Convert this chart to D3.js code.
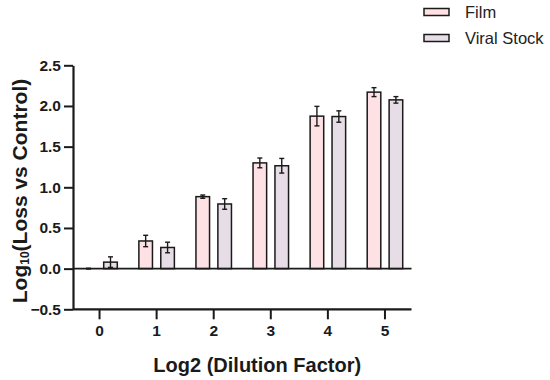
<!DOCTYPE html>
<html>
<head>
<meta charset="utf-8">
<script src="https://cdn.jsdelivr.net/npm/d3@7"></script>
<style>
  html, body { margin: 0; padding: 0; background: #fff; }
  svg { display: block; font-family: 'Liberation Sans', Arial, sans-serif; }
</style>
</head>
<body>
<svg id="chart" width="550" height="380"></svg>
<script>
// dilution steps on the x axis
const dilutions = ['0', '1', '2', '3', '4', '5']
const seriesNames = ['Film', 'Viral Stock']
const filmMeans = [0.0, 0.34, 0.885, 1.30, 1.875, 2.17]
const filmErrs = [0.005, 0.07, 0.02, 0.06, 0.12, 0.055]
const stockMeans = [0.08, 0.26, 0.795, 1.265, 1.87, 2.075]
const stockErrs = [0.065, 0.065, 0.065, 0.09, 0.07, 0.04]
const yTicks = [-0.5, 0, 0.5, 1.0, 1.5, 2.0, 2.5]
const fills = { 'Film': '#fde1e4', 'Viral Stock': '#e7dde6' }

const svg = d3.select('#chart')
const ink = '#1a1a1a'

const x = d3.scaleBand().domain(dilutions).range([71, 413.5]).padding(0)
const x1 = d3.scaleBand().domain(seriesNames).range([-17.75, 17.75]).paddingInner(0.38).paddingOuter(0)
const y = d3.scaleLinear().domain([-0.5, 2.5]).range([309.3, 65.3])

const rows = []
dilutions.forEach((d, i) => {
  rows.push({ dil: d, series: 'Film', mean: filmMeans[i], err: filmErrs[i] })
  rows.push({ dil: d, series: 'Viral Stock', mean: stockMeans[i], err: stockErrs[i] })
})

const cx = d => x(d.dil) + x.bandwidth() / 2 + x1(d.series) + x1.bandwidth() / 2

// bars
svg.append('g').selectAll('rect')
  .data(rows)
  .enter()
  .append('rect')
  .attr('x', d => cx(d) - x1.bandwidth() / 2)
  .attr('y', d => y(Math.max(0, d.mean)))
  .attr('width', x1.bandwidth())
  .attr('height', d => Math.abs(y(d.mean) - y(0)))
  .attr('fill', d => fills[d.series])
  .attr('stroke', ink)
  .attr('stroke-width', 1.5)

// error bars
const eb = svg.append('g').attr('stroke', ink).attr('stroke-width', 1.4)
rows.forEach(d => {
  const c = cx(d)
  eb.append('line').attr('x1', c).attr('x2', c).attr('y1', y(d.mean - d.err)).attr('y2', y(d.mean + d.err))
  eb.append('line').attr('x1', c - 2.5).attr('x2', c + 2.5).attr('y1', y(d.mean + d.err)).attr('y2', y(d.mean + d.err))
  eb.append('line').attr('x1', c - 2.5).attr('x2', c + 2.5).attr('y1', y(d.mean - d.err)).attr('y2', y(d.mean - d.err))
})

// zero line
svg.append('line')
  .attr('x1', 73).attr('x2', 411.5)
  .attr('y1', y(0)).attr('y2', y(0))
  .attr('stroke', ink).attr('stroke-width', 1.8)

// y axis
const yAxis = svg.append('g')
  .attr('transform', 'translate(73,0)')
  .call(d3.axisLeft(y).tickValues(yTicks).tickFormat(d3.format('.1f')).tickSize(9).tickSizeOuter(0).tickPadding(3))
yAxis.select('.domain').attr('stroke', ink).attr('stroke-width', 2.2)
yAxis.selectAll('.tick line').attr('stroke', ink).attr('stroke-width', 2)
yAxis.selectAll('.tick text')
  .attr('font-size', 15.5).attr('font-weight', 'bold').attr('fill', ink)
  .attr('font-family', "'Liberation Sans', Arial, sans-serif")

// x axis
const xAxis = svg.append('g')
  .attr('transform', `translate(0,${y(-0.5)})`)
  .call(d3.axisBottom(x).tickSize(10).tickSizeOuter(0).tickPadding(6))
xAxis.select('.domain').attr('d', 'M73,0H411.5').attr('stroke', ink).attr('stroke-width', 2.2)
xAxis.selectAll('.tick line').attr('stroke', ink).attr('stroke-width', 2)
xAxis.selectAll('.tick text')
  .attr('font-size', 15.5).attr('font-weight', 'bold').attr('fill', ink)
  .attr('font-family', "'Liberation Sans', Arial, sans-serif")

// axis titles
svg.append('text')
  .attr('x', (73 + 411.5) / 2 + 15)
  .attr('y', 372)
  .attr('text-anchor', 'middle')
  .attr('font-size', 20)
  .attr('font-weight', 'bold')
  .attr('fill', ink)
  .text('Log2 (Dilution Factor)')

const yt = svg.append('text')
  .attr('transform', 'translate(27,191) rotate(-90)')
  .attr('text-anchor', 'middle')
  .attr('font-size', 21)
  .attr('font-weight', 'bold')
  .attr('fill', ink)
yt.append('tspan').text('Log')
yt.append('tspan').attr('font-size', 12).attr('dy', 2).text('10')
yt.append('tspan').attr('dy', -2).text('(Loss vs Control)')

// legend
const legend = svg.append('g')
seriesNames.forEach((s, i) => {
  const ly = 12 + i * 26
  legend.append('rect')
    .attr('x', 424).attr('y', ly - 3.5)
    .attr('width', 25).attr('height', 7)
    .attr('fill', fills[s]).attr('stroke', ink).attr('stroke-width', 1.5)
  legend.append('text')
    .attr('x', 465).attr('y', ly)
    .attr('dy', '0.35em')
    .attr('font-size', 16.5)
    .attr('fill', '#222')
    .text(s)
})
</script>
</body>
</html>
